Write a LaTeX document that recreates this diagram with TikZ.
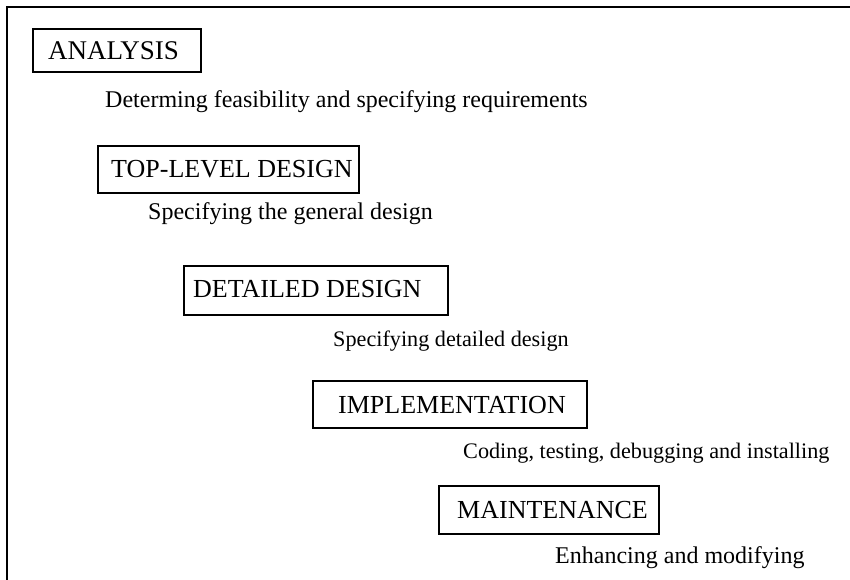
\documentclass[tikz,border=0pt]{standalone}
\usepackage{fontspec}
\setmainfont{Liberation Serif}
\begin{document}
\begin{tikzpicture}[x=1pt,y=-1pt,
  stagebox/.style={draw, line width=1.6pt, inner sep=0pt, anchor=north west},
  stagelabel/.style={anchor=base west, inner sep=0pt, font=\fontsize{26}{30}\selectfont},
  desc/.style={anchor=base west, inner sep=0pt, font=\fontsize{24}{28}\selectfont},
  descsmall/.style={desc, font=\fontsize{22.2}{26}\selectfont},
  frameline/.style={line width=2pt}]
\useasboundingbox (0,0) rectangle (850,580);
\coordinate (ftr) at (850,7);
\coordinate (ftl) at (7,7);
\coordinate (fbl) at (7,580);
\draw[frameline] (ftr) -- (ftl) -- (fbl);

\node[stagebox, minimum width=168pt, minimum height=43pt] (b1) at (32,28) {};
\node[stagelabel, font=\fontsize{27}{31}\selectfont] (l1) at (48,60) {ANALYSIS};
\node[desc] (d1) at (105,108) {Determing feasibility and specifying requirements};

\node[stagebox, minimum width=261pt, minimum height=47pt] (b2) at (97,145) {};
\node[stagelabel] (l2) at (111,177) {TOP-LEVEL DESIGN};
\node[desc] (d2) at (148,219) {Specifying the general design};

\node[stagebox, minimum width=264pt, minimum height=49pt] (b3) at (183,265) {};
\node[stagelabel] (l3) at (193,297) {DETAILED DESIGN};
\node[descsmall] (d3) at (333,346) {Specifying detailed design};

\node[stagebox, minimum width=274pt, minimum height=47pt] (b4) at (312,380) {};
\node[stagelabel] (l4) at (338,413) {IMPLEMENTATION};
\node[descsmall] (d4) at (463,458) {Coding, testing, debugging and installing};

\node[stagebox, minimum width=220pt, minimum height=48pt] (b5) at (438,485) {};
\node[stagelabel] (l5) at (457,518) {MAINTENANCE};
\node[desc] (d5) at (555,563) {Enhancing and modifying};
\end{tikzpicture}
\end{document}
